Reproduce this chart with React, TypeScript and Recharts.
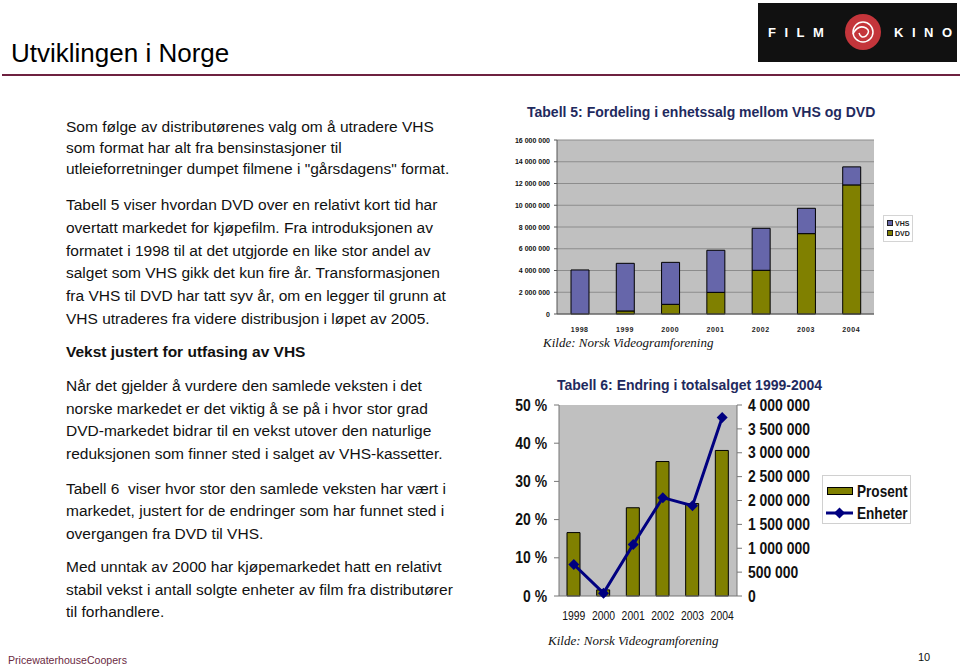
import React from 'react';
import { BarChart, Bar, XAxis, YAxis, CartesianGrid, Legend, ComposedChart, Line } from 'recharts';

const years5 = ['1998', '1999', '2000', '2001', '2002', '2003', '2004'];
const vhsUnits = [4050000, 4380000, 3860000, 3870000, 3860000, 2330000, 1660000];
const dvdUnits = [0, 280000, 890000, 1990000, 4020000, 7390000, 11870000];
const unitTicks5 = [0, 2000000, 4000000, 6000000, 8000000, 10000000, 12000000, 14000000, 16000000];

const years6 = ['1999', '2000', '2001', '2002', '2003', '2004'];
const prosent = [16.6, 1.6, 23.1, 35.2, 24.2, 38.1];
const enheter = [660000, 60000, 1080000, 2060000, 1890000, 3740000];
const pctTicks = [0, 10, 20, 30, 40, 50];
const unitTicks6 = [0, 500000, 1000000, 1500000, 2000000, 2500000, 3000000, 3500000, 4000000];

const data5 = years5.map((y, i) => ({ year: y, VHS: vhsUnits[i], DVD: dvdUnits[i] }));
const data6 = years6.map((y, i) => ({ year: y, Prosent: prosent[i], Enheter: enheter[i] }));

const fmt = (n: number) => String(n).replace(/\B(?=(\d{3})+(?!\d))/g, '\u00A0');

const SANS = "'Liberation Sans', Arial, Helvetica, sans-serif";
const SERIF = "'Liberation Serif', 'Times New Roman', serif";

const para1 = [
  'Som følge av distributørenes valg om å utradere VHS',
  'som format har alt fra bensinstasjoner til',
  'utleieforretninger dumpet filmene i "gårsdagens" format.',
];
const para2 = [
  'Tabell 5 viser hvordan DVD over en relativt kort tid har',
  'overtatt markedet for kjøpefilm. Fra introduksjonen av',
  'formatet i 1998 til at det utgjorde en like stor andel av',
  'salget som VHS gikk det kun fire år. Transformasjonen',
  'fra VHS til DVD har tatt syv år, om en legger til grunn at',
  'VHS utraderes fra videre distribusjon i løpet av 2005.',
];
const heading = 'Vekst justert for utfasing av VHS';
const para3 = [
  'Når det gjelder å vurdere den samlede veksten i det',
  'norske markedet er det viktig å se på i hvor stor grad',
  'DVD-markedet bidrar til en vekst utover den naturlige',
  'reduksjonen som finner sted i salget av VHS-kassetter.',
];
const para4 = [
  'Tabell 6  viser hvor stor den samlede veksten har vært i',
  'markedet, justert for de endringer som har funnet sted i',
  'overgangen fra DVD til VHS.',
];
const para5 = [
  'Med unntak av 2000 har kjøpemarkedet hatt en relativt',
  'stabil vekst i antall solgte enheter av film fra distributører',
  'til forhandlere.',
];

const Para = ({ lines, y0, step }: { lines: string[]; y0: number; step: number }) => (
  <g>
    {lines.map((l, i) => (
      <text key={i} x={66} y={y0 + i * step} fontSize={15.5} fontFamily={SANS} fill="#111" style={{ whiteSpace: 'pre' }}>
        {l}
      </text>
    ))}
  </g>
);

const mkTick = (size: number, weight: string, sx: number, f: (v: any) => string, dyEm: number) => (p: any) => (
  <text
    transform={`translate(${p.x},${p.y}) scale(${sx},1)`}
    textAnchor={p.textAnchor}
    fontSize={size}
    fontWeight={weight}
    fontFamily={SANS}
    fill="#111"
    dy={`${dyEm}em`}
  >
    {f(p.payload.value)}
  </text>
);

const TopLegend = (props: any) => {
  const items = [...(props.payload || [])].reverse();
  return (
    <div style={{ width: 25, height: 23, border: '1px solid #d4d4d4', background: '#fff', padding: '2px 0 0 3px', boxSizing: 'content-box' }}>
      {items.map((it: any) => (
        <div key={it.value} style={{ display: 'flex', alignItems: 'center', height: 10 }}>
          <span style={{ display: 'inline-block', width: 4, height: 4, background: it.color, border: '1px solid #222', marginRight: 2 }} />
          <span style={{ fontSize: 7, fontWeight: 'bold', fontFamily: SANS, color: '#222' }}>{it.value}</span>
        </div>
      ))}
    </div>
  );
};

const BottomLegend = () => (
  <div style={{ width: 87, height: 47, border: '1px solid #d0d0d0', background: '#fff', position: 'relative' }}>
    <svg style={{ position: 'absolute', left: 0, top: 0 }} width={87} height={47}>
      <rect x={4.5} y={11.5} width={25} height={7} fill="#808000" stroke="#000" strokeWidth={1} />
      <text transform="translate(34,21) scale(0.85,1)" fontSize={16} fontWeight="bold" fontFamily={SANS} fill="#111">Prosent</text>
      <line x1={3} y1={37} x2={30} y2={37} stroke="#000080" strokeWidth={3} />
      <polygon points="16.5,31.5 22,37 16.5,42.5 11,37" fill="#000080" />
      <text transform="translate(34,43) scale(0.85,1)" fontSize={16} fontWeight="bold" fontFamily={SANS} fill="#111">Enheter</text>
    </svg>
  </div>
);

const Diamond = (p: any) => {
  const { cx, cy } = p;
  if (cx == null || cy == null) return <g key={p.index} />;
  const r = 5.5;
  return (
    <polygon key={p.index} points={`${cx},${cy - r} ${cx + r},${cy} ${cx},${cy + r} ${cx - r},${cy}`} fill="#000080" />
  );
};

export default function App() {
  return (
    <div style={{ position: 'absolute', left: 0, top: 0, width: 960, height: 670, overflow: 'hidden', background: '#fff' }}>
      <svg width={960} height={670} style={{ position: 'absolute', left: 0, top: 0 }}>
        <text x={11} y={62} fontSize={26} fontFamily={SANS} fill="#000">Utviklingen i Norge</text>
        <rect x={2} y={74} width={958} height={2} fill="#6e2140" />

        {/* logo */}
        <rect x={758} y={3} width={199} height={59} fill="#111" />
        <text x={768} y={37} fontSize={13} fontWeight="bold" fontFamily={SANS} fill="#fff" letterSpacing={8.5}>FILM</text>
        <circle cx={863} cy={32} r={18} fill="#c4353b" />
        <circle cx={863} cy={32} r={10} fill="none" stroke="#fff" strokeWidth={1.5} />
        <path d="M853 34 Q858 24 866 28 Q871 31 866 36 Q861 39 859 33" fill="none" stroke="#fff" strokeWidth={1.5} />
        <text x={894} y={37} fontSize={13} fontWeight="bold" fontFamily={SANS} fill="#fff" letterSpacing={8.5}>KINO</text>

        <Para lines={para1} y0={132} step={21} />
        <Para lines={para2} y0={210} step={22.8} />
        <text x={66} y={357} fontSize={15.5} fontWeight="bold" fontFamily={SANS} fill="#111">{heading}</text>
        <Para lines={para3} y0={391} step={22.7} />
        <Para lines={para4} y0={494} step={22.3} />
        <Para lines={para5} y0={572} step={22.5} />

        <text x={527} y={117} fontSize={14} fontWeight="bold" fontFamily={SANS} fill="#1f2a5e">Tabell 5: Fordeling i enhetssalg mellom VHS og DVD</text>
        <text x={543} y={347} fontSize={13} fontStyle="italic" fontFamily={SERIF} fill="#111">Kilde: Norsk Videogramforening</text>
        <text x={557} y={390} fontSize={14} fontWeight="bold" fontFamily={SANS} fill="#1f2a5e">Tabell 6: Endring i totalsalget 1999-2004</text>
        <text x={548} y={645} fontSize={13} fontStyle="italic" fontFamily={SERIF} fill="#111">Kilde: Norsk Videogramforening</text>

        <text x={8} y={664} fontSize={10.6} fontFamily={SANS} fill="#6b2a3f">PricewaterhouseCoopers</text>
        <text x={918} y={661} fontSize={11} fontFamily={SANS} fill="#111">10</text>
      </svg>

      <div style={{ position: 'absolute', left: 500, top: 95 }}>
        <BarChart width={460} height={260} data={data5} margin={{ top: 45, right: 86, bottom: 21, left: 7 }}>
          <CartesianGrid vertical={false} stroke="#8c8c8c" fill="#c0c0c0" />
          <XAxis
            dataKey="year"
            height={20}
            interval={0}
            tickLine={false}
            axisLine={{ stroke: '#555' }}
            tickMargin={7}
            tick={{ fontSize: 7, fontWeight: 'bold', fontFamily: SANS, fill: '#222', letterSpacing: 0.6 }}
          />
          <YAxis
            width={50}
            domain={[0, 16000000]}
            ticks={unitTicks5}
            interval={0}
            tickFormatter={fmt}
            tickSize={3}
            tickMargin={4}
            axisLine={{ stroke: '#555' }}
            tickLine={{ stroke: '#555' }}
            tick={mkTick(7, 'bold', 1, fmt, 0.355)}
          />
          <Legend layout="vertical" align="center" verticalAlign="middle" wrapperStyle={{ left: 383, top: 120 }} content={<TopLegend />} />
          <Bar dataKey="DVD" stackId="a" fill="#808000" stroke="#000" strokeWidth={1} barSize={18} isAnimationActive={false} />
          <Bar dataKey="VHS" stackId="a" fill="#6666aa" stroke="#000" strokeWidth={1} barSize={18} isAnimationActive={false} />
        </BarChart>
      </div>

      <div style={{ position: 'absolute', left: 500, top: 375 }}>
        <ComposedChart width={420} height={280} data={data6} margin={{ top: 30, right: 103, bottom: 29, left: 9 }}>
          <CartesianGrid yAxisId="left" horizontal={false} vertical={false} fill="#c0c0c0" />
          <XAxis
            dataKey="year"
            height={30}
            interval={0}
            tickLine={false}
            axisLine={{ stroke: '#777' }}
            tickMargin={9}
            tick={mkTick(13, 'normal', 0.8, (v) => String(v), 0.71)}
          />
          <YAxis
            yAxisId="left"
            width={50}
            domain={[0, 50]}
            ticks={pctTicks}
            interval={0}
            tickSize={5}
            tickMargin={7}
            axisLine={{ stroke: '#777' }}
            tickLine={{ stroke: '#777' }}
            tick={mkTick(16, 'bold', 0.87, (v: number) => `${v}\u00A0%`, 0.355)}
          />
          <YAxis
            yAxisId="right"
            orientation="right"
            width={80}
            domain={[0, 4000000]}
            ticks={unitTicks6}
            interval={0}
            tickSize={5}
            tickMargin={6}
            axisLine={{ stroke: '#777' }}
            tickLine={{ stroke: '#777' }}
            tick={mkTick(16, 'bold', 0.87, fmt, 0.355)}
          />
          <Legend layout="vertical" align="center" verticalAlign="middle" wrapperStyle={{ left: 322, top: 100 }} content={<BottomLegend />} />
          <Bar yAxisId="left" dataKey="Prosent" fill="#808000" stroke="#000" strokeWidth={1} barSize={13} isAnimationActive={false} />
          <Line
            yAxisId="right"
            dataKey="Enheter"
            stroke="#000080"
            strokeWidth={3}
            dot={(p: any) => <Diamond key={p.index} {...p} />}
            activeDot={false}
            isAnimationActive={false}
          />
        </ComposedChart>
      </div>
    </div>
  );
}
